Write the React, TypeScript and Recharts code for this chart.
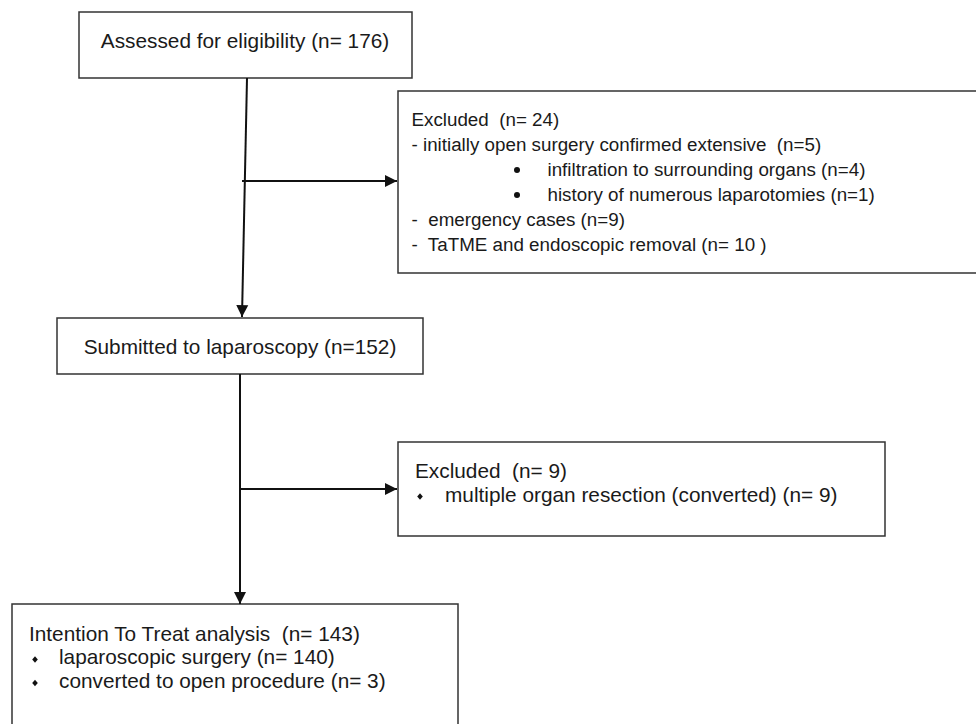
import React from 'react';
import { ComposedChart, XAxis, YAxis, Scatter, ReferenceArea } from 'recharts';

const W = 976;
const H = 724;
const FONT = '"Liberation Sans", Arial, Helvetica, sans-serif';

// flow of patients
const stepLabels = ['Assessed for eligibility', 'Submitted to laparoscopy', 'Intention To Treat analysis'];
const stepCounts = [176, 152, 143];

const excludedCounts = [24, 9];
const firstExclReasons = ['initially open surgery confirmed extensive', 'emergency cases', 'TaTME and endoscopic removal'];
const firstExclCounts = [5, 9, 10];
const openSurgeryReasons = ['infiltration to surrounding organs', 'history of numerous laparotomies'];
const openSurgeryCounts = [4, 1];
const secondExclReasons = ['multiple organ resection (converted)'];
const secondExclCounts = [9];
const ittArms = ['laparoscopic surgery', 'converted to open procedure'];
const ittCounts = [140, 3];

// box frames, page pixels
const boxes = [
  { x1: 79, x2: 412, y1: 12, y2: 78 },
  { x1: 398, x2: 980, y1: 91, y2: 273 },
  { x1: 57, x2: 423, y1: 318, y2: 374 },
  { x1: 398, x2: 885, y1: 442, y2: 536 },
  { x1: 12, x2: 458, y1: 604, y2: 740 },
];

// connectors; the last point gets the arrow head
const connectors = [
  [{ x: 247, y: 78 }, { x: 242, y: 317 }],
  [{ x: 242, y: 181 }, { x: 397, y: 181 }],
  [{ x: 240, y: 374 }, { x: 240, y: 604 }],
  [{ x: 240, y: 489 }, { x: 397, y: 489 }],
];

const BIG = 20.8;
const SMALL = 18.8;

const texts = [
  { x: 245, y: 47.5, size: BIG, anchor: 'middle', text: `${stepLabels[0]} (n= ${stepCounts[0]})` },
  { x: 240, y: 354, size: BIG, anchor: 'middle', text: `${stepLabels[1]} (n=${stepCounts[1]})` },
  { x: 29, y: 640.7, size: BIG, anchor: 'start', text: `${stepLabels[2]}  (n= ${stepCounts[2]})` },
  { x: 59, y: 664.2, size: BIG, anchor: 'start', text: `${ittArms[0]} (n= ${ittCounts[0]})` },
  { x: 59, y: 687.7, size: BIG, anchor: 'start', text: `${ittArms[1]} (n= ${ittCounts[1]})` },

  { x: 411.5, y: 126, size: SMALL, anchor: 'start', text: `Excluded  (n= ${excludedCounts[0]})` },
  { x: 411.5, y: 151, size: SMALL, anchor: 'start', text: `- ${firstExclReasons[0]}  (n=${firstExclCounts[0]})` },
  { x: 547.5, y: 176, size: SMALL, anchor: 'start', text: `${openSurgeryReasons[0]} (n=${openSurgeryCounts[0]})` },
  { x: 547.5, y: 201, size: SMALL, anchor: 'start', text: `${openSurgeryReasons[1]} (n=${openSurgeryCounts[1]})` },
  { x: 411.5, y: 226, size: SMALL, anchor: 'start', text: `-  ${firstExclReasons[1]} (n=${firstExclCounts[1]})` },
  { x: 411.5, y: 251, size: SMALL, anchor: 'start', text: `-  ${firstExclReasons[2]} (n= ${firstExclCounts[2]} )` },

  { x: 415, y: 477.5, size: BIG, anchor: 'start', text: `Excluded  (n= ${excludedCounts[1]})` },
  { x: 445, y: 501.5, size: BIG, anchor: 'start', text: `${secondExclReasons[0]} (n= ${secondExclCounts[0]})` },
];

const bullets = [
  { x: 517, y: 170, kind: 'dot' },
  { x: 517, y: 195, kind: 'dot' },
  { x: 420, y: 496.5, kind: 'diamond' },
  { x: 35, y: 659.5, kind: 'diamond' },
  { x: 35, y: 683, kind: 'diamond' },
];

const ArrowEnd = (props: any) => {
  const { cx, cy, payload } = props;
  if (!payload || !payload.head) return <g />;
  const a = payload.angle;
  const len = 12;
  const hw = 6;
  const bx = cx - len * Math.cos(a);
  const by = cy - len * Math.sin(a);
  const px = -Math.sin(a) * hw;
  const py = Math.cos(a) * hw;
  return <polygon points={`${cx},${cy} ${bx + px},${by + py} ${bx - px},${by - py}`} fill="#111" />;
};

const TextMark = (props: any) => {
  const { cx, cy, payload } = props;
  return (
    <text
      x={cx}
      y={cy}
      textAnchor={payload.anchor}
      fontSize={payload.size}
      fontFamily={FONT}
      fill="#1a1a1a"
      style={{ whiteSpace: 'pre' }}
    >
      {payload.text}
    </text>
  );
};

const BulletMark = (props: any) => {
  const { cx, cy, payload } = props;
  if (payload.kind === 'dot') return <circle cx={cx} cy={cy} r={3} fill="#111" />;
  return <polygon points={`${cx},${cy - 3.3} ${cx + 2.8},${cy} ${cx},${cy + 3.3} ${cx - 2.8},${cy}`} fill="#111" />;
};

const App: React.FC = () => {
  const lines = connectors.map((pts) => {
    const [p0, p1] = pts;
    const angle = Math.atan2(p1.y - p0.y, p1.x - p0.x);
    return pts.map((p, i) => ({ ...p, head: i === pts.length - 1, angle }));
  });

  return (
    <div style={{ position: 'absolute', left: 0, top: 0, background: '#fff' }}>
      <ComposedChart width={W} height={H} margin={{ top: 0, right: 0, bottom: 0, left: 0 }}>
        <XAxis type="number" dataKey="x" domain={[0, W]} allowDataOverflow hide />
        <YAxis type="number" dataKey="y" domain={[0, H]} allowDataOverflow reversed hide />
        {boxes.map((b, i) => (
          <ReferenceArea
            key={`box-${i}`}
            x1={b.x1}
            x2={b.x2}
            y1={b.y1}
            y2={b.y2}
            fill="#fff"
            fillOpacity={1}
            stroke="#333"
            strokeWidth={1.5}
            ifOverflow="visible"
          />
        ))}
        {lines.map((d, i) => (
          <Scatter
            key={`link-${i}`}
            data={d}
            line={{ stroke: '#111', strokeWidth: 2 }}
            shape={<ArrowEnd />}
            isAnimationActive={false}
          />
        ))}
        <Scatter data={bullets} shape={<BulletMark />} isAnimationActive={false} />
        <Scatter data={texts} shape={<TextMark />} isAnimationActive={false} />
      </ComposedChart>
    </div>
  );
};

export default App;
